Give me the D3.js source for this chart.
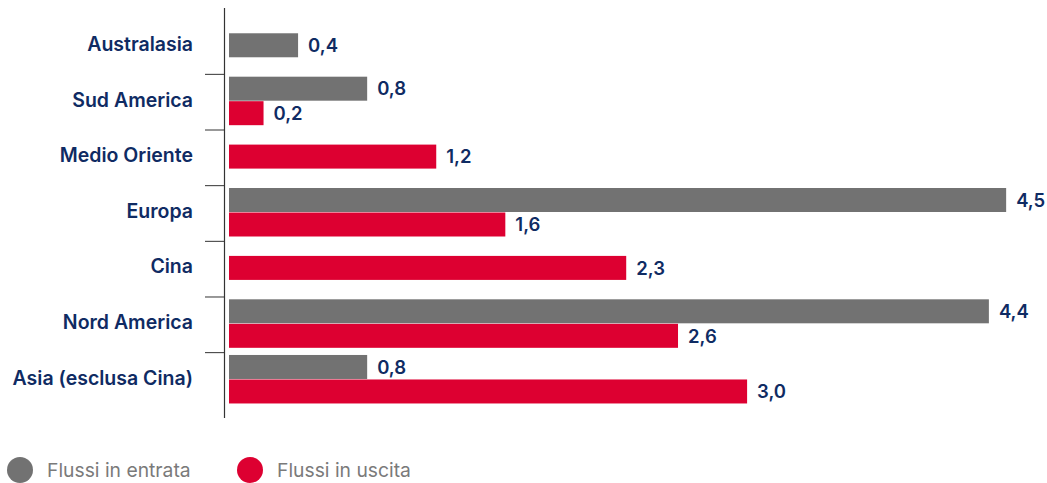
<!DOCTYPE html>
<html>
<head>
<meta charset="utf-8">
<script src="https://cdn.jsdelivr.net/npm/d3@7"></script>
<style>
  body { margin: 0; background: #fff; }
  svg { display: block; font-family: "Inter", "DejaVu Sans", sans-serif; }
</style>
</head>
<body>
<svg width="1047" height="483"></svg>
<script>
var regions = ["Australasia", "Sud America", "Medio Oriente", "Europa", "Cina", "Nord America", "Asia (esclusa Cina)"]
// null = no bar for that region
var entrata = [0.4, 0.8, null, 4.5, null, 4.4, 0.8]
var uscita = [null, 0.2, 1.2, 1.6, 2.3, 2.6, 3.0]
var seriesNames = ["Flussi in entrata", "Flussi in uscita"]
var colors = ["#727272", "#dd0031"]
var navy = "#0f2b63"

var svg = d3.select('svg')

var x = d3.scaleLinear().domain([0, 1]).range([229, 229 + 172.7])
var y = d3.scaleBand().domain(regions).range([17.7, 407.3])
var barH = 24.5

var rows = regions.map(function (r, i) {
  var bars = []
  if (entrata[i] != null) bars.push({ s: 0, v: entrata[i] })
  if (uscita[i] != null) bars.push({ s: 1, v: uscita[i] })
  return { region: r, bars: bars }
})

// axis line + separators between categories
svg.append('line')
  .attr('x1', 224.5).attr('x2', 224.5)
  .attr('y1', 8).attr('y2', 418)
  .attr('stroke', '#333').attr('stroke-width', 1.2)

svg.append('g')
  .selectAll('line')
  .data(regions.slice(1))
  .enter()
  .append('line')
    .attr('x1', 205).attr('x2', 224.5)
    .attr('y1', d => y(d) + 1).attr('y2', d => y(d) + 1)
    .attr('stroke', '#333').attr('stroke-width', 1)

// category labels
svg.append('g')
  .selectAll('text')
  .data(regions)
  .enter()
  .append('text')
    .attr('x', 193)
    .attr('y', d => y(d) + y.bandwidth() / 2 - 1.5)
    .attr('dy', '0.35em')
    .attr('text-anchor', 'end')
    .attr('font-size', 19.5)
    .attr('font-weight', 600)
    .attr('fill', navy)
    .text(d => d)

var groups = svg.append('g')
  .selectAll('g')
  .data(rows)
  .enter()
  .append('g')
    .attr('transform', d => 'translate(0,' + (y(d.region) + y.bandwidth() / 2 - d.bars.length * barH / 2) + ')')

groups.selectAll('rect')
  .data(d => d.bars)
  .enter()
  .append('rect')
    .attr('x', x(0))
    .attr('y', (d, i) => i * barH)
    .attr('width', d => x(d.v) - x(0))
    .attr('height', barH - 0.5)
    .attr('fill', d => colors[d.s])

groups.selectAll('text')
  .data(d => d.bars)
  .enter()
  .append('text')
    .attr('x', d => x(d.v) + 10)
    .attr('y', (d, i) => i * barH + barH / 2)
    .attr('dy', '0.35em')
    .attr('font-size', 18.5)
    .attr('font-weight', 600)
    .attr('fill', navy)
    .text(d => d3.format('.1f')(d.v).replace('.', ','))

// legend
var legend = svg.append('g')
  .selectAll('g')
  .data(seriesNames)
  .enter()
  .append('g')
    .attr('transform', (d, i) => 'translate(' + [20, 250][i] + ',470)')

legend.append('circle')
  .attr('r', 13)
  .attr('fill', (d, i) => colors[i])

legend.append('text')
  .attr('x', 27)
  .attr('dy', '0.35em')
  .attr('font-size', 19.3)
  .attr('fill', '#7a7a7a')
  .text(d => d)
</script>
</body>
</html>
